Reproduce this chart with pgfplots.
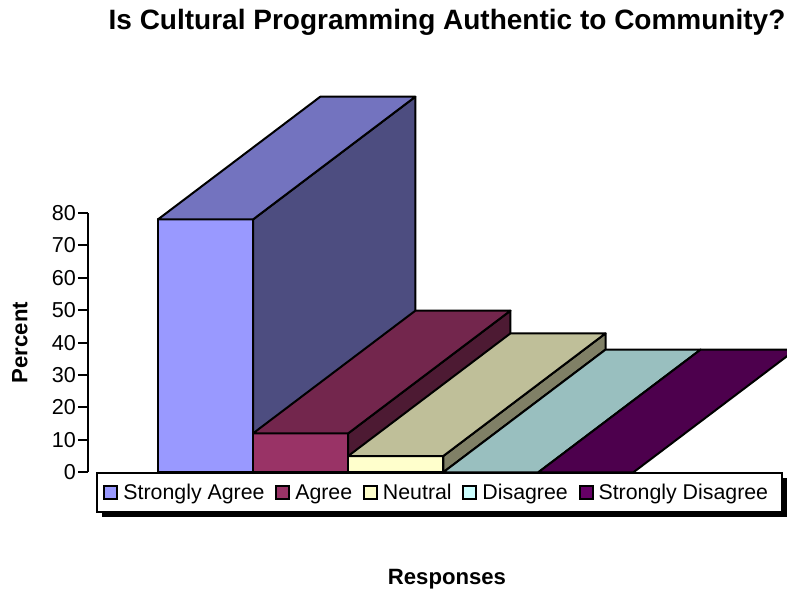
\documentclass[border=0pt]{standalone}
\usepackage{fontspec}
\setmainfont{Liberation Sans}
\usepackage{pgfplots}
\pgfplotsset{compat=1.18}

% Colours of the five response categories: front, top and side faces
\definecolor{saF}{HTML}{9999FF}\definecolor{saT}{HTML}{7373BF}\definecolor{saS}{HTML}{4D4D80}
\definecolor{agF}{HTML}{993366}\definecolor{agT}{HTML}{73264D}\definecolor{agS}{HTML}{4D1A33}
\definecolor{neF}{HTML}{FFFFCC}\definecolor{neT}{HTML}{BFBF99}\definecolor{neS}{HTML}{808066}
\definecolor{diF}{HTML}{CCFFFF}\definecolor{diT}{HTML}{99BFBF}
\definecolor{sdF}{HTML}{660066}\definecolor{sdT}{HTML}{4D004D}

\pgfplotsset{
  face/.style={draw=black, line width=1.5pt, line join=round},
  front/.style={ybar, bar width=1, bar shift=0pt, face, fill=#1, forget plot},
  poly/.style={face, fill=#1, forget plot, mark=none},
  key/.style={legend image code/.code={
    \draw[black, line width=1.5pt, fill=#1] (0pt,-4.9pt) rectangle (9.75pt,4.9pt);}},
}

\begin{document}
\begin{tikzpicture}
\useasboundingbox (-66pt,-86.8pt) rectangle (524.25pt,354.2pt);
\begin{axis}[
  at={(0pt,0pt)}, anchor=south west,
  scale only axis, width=524.25pt, height=194.5pt,
  xmin=-1.2355, xmax=6.1146, ymin=0, ymax=80,
  clip=false,
  axis y line*=left, axis x line=none,
  axis line style={line width=1.5pt, -},
  ytick={0,10,...,80},
  major tick length=7.2pt,
  tick style={black, line width=1.5pt},
  tick align=outside,
  /pgf/number format/assume math mode=true,
  every tick label/.append style={font=\fontsize{16.2}{18}\selectfont},
  yticklabel style={xshift=1.7pt},
  ylabel={\textbf{Percent}},
  ylabel style={font=\fontsize{16.6}{18}\selectfont, at={(rel axis cs:0,0.5)}, anchor=base, xshift=0pt, yshift=45.4pt},
  legend columns=-1,
  legend cell align=left,
  legend style={
    at={(axis description cs:0.0115,0)}, anchor=north west,
    font=\fontsize{16}{18}\selectfont,
    draw=black, line width=1.5pt, fill=white,
    inner xsep=4.8pt, inner ysep=7pt,
    /tikz/every odd column/.style={column sep=2.75pt},
    /tikz/every even column/.style={column sep=7.05pt},
    /tikz/nodes={inner sep=1pt},
  },
]
% Strongly Agree
\addplot[front=saF] coordinates {(0,78)};
\addplot[poly=saS] coordinates {(0.5,0)(2.2066,37.85)(2.2066,115.85)(0.5,78)} -- cycle;
\addplot[poly=saT] coordinates {(-0.5,78)(0.5,78)(2.2066,115.85)(1.2066,115.85)} -- cycle;
% Agree
\addplot[front=agF] coordinates {(1,12)};
\addplot[poly=agS] coordinates {(1.5,0)(3.2066,37.85)(3.2066,49.85)(1.5,12)} -- cycle;
\addplot[poly=agT] coordinates {(0.5,12)(1.5,12)(3.2066,49.85)(2.2066,49.85)} -- cycle;
% Neutral
\addplot[front=neF] coordinates {(2,5)};
\addplot[poly=neS] coordinates {(2.5,0)(4.2066,37.85)(4.2066,42.85)(2.5,5)} -- cycle;
\addplot[poly=neT] coordinates {(1.5,5)(2.5,5)(4.2066,42.85)(3.2066,42.85)} -- cycle;
% Disagree (zero height: only the floor of the bar shows)
\addplot[poly=diT] coordinates {(2.5,0)(3.5,0)(5.2066,37.85)(4.2066,37.85)} -- cycle;
% Strongly Disagree (zero height)
\addplot[poly=sdT] coordinates {(3.5,0)(4.5,0)(6.2066,37.85)(5.2066,37.85)} -- cycle;

\addlegendimage{key=saF}\addlegendentry{Strongly Agree}
\addlegendimage{key=agF}\addlegendentry{Agree}
\addlegendimage{key=neF}\addlegendentry{Neutral}
\addlegendimage{key=diF}\addlegendentry{Disagree}
\addlegendimage{key=sdF}\addlegendentry{Strongly Disagree\rule{4.5pt}{0pt}}

% Drop shadow of the legend box
\fill[black] (rel axis cs:0.02,-0.022) rectangle (rel axis cs:1,-0.1724);

\node[font=\bfseries\fontsize{21}{24}\selectfont, anchor=base] at (rel axis cs:0.5136,1.7057) {Is Cultural Programming Authentic to Community?};
\node[font=\bfseries\fontsize{16.6}{20}\selectfont, anchor=base] at (rel axis cs:0.5136,-0.4346) {Responses};
\end{axis}
\end{tikzpicture}
\end{document}
